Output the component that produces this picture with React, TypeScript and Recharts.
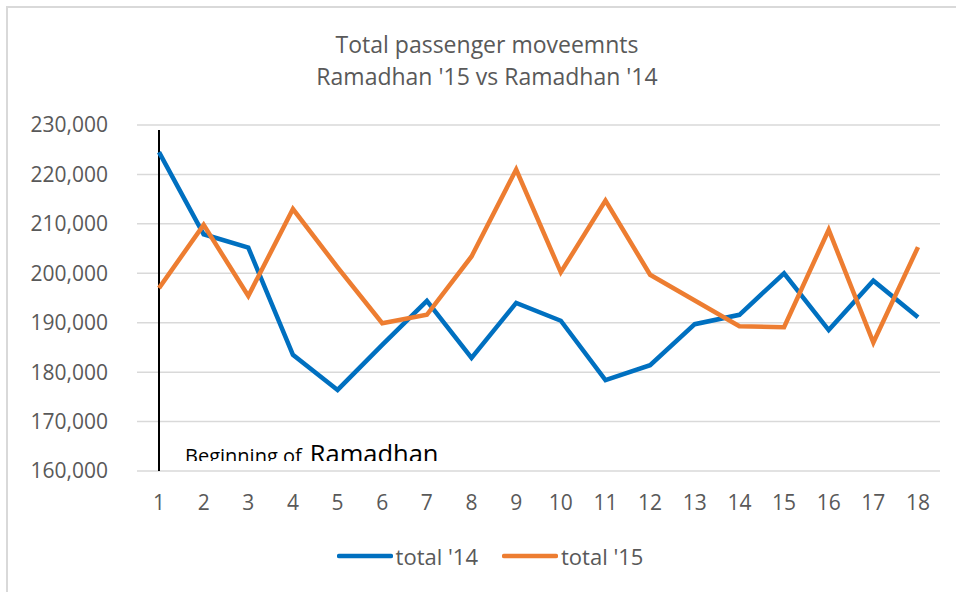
import React from "react";
import {
  CartesianGrid,
  Legend,
  Line,
  LineChart,
  ReferenceLine,
  XAxis,
  YAxis
} from "recharts";

const days = [1, 2, 3, 4, 5, 6, 7, 8, 9, 10, 11, 12, 13, 14, 15, 16, 17, 18];
const total14 = [
  224500, 207900, 205200, 183500, 176400, 185500, 194400, 182900, 194000,
  190400, 178400, 181400, 189700, 191600, 200000, 188500, 198500, 191100
];
const total15 = [
  197000, 209800, 195400, 213000, 201200, 189900, 191600, 203400, 221000,
  200200, 214700, 199700, 194500, 189300, 189100, 208800, 186000, 205300
];
const yTicks = [160000, 170000, 180000, 190000, 200000, 210000, 220000, 230000];

const data = days.map((d, i) => ({ day: d, t14: total14[i], t15: total15[i] }));

const FONT = "'Open Sans', 'Liberation Sans', sans-serif";
const GRAY = "#595959";

function RamadhanLabel(props: any) {
  const vb = props.viewBox || {};
  const x = vb.x + 26;
  const base = vb.y + vb.height - 10;
  return (
    <g>
      <defs>
        <clipPath id="ramadhanClip">
          <rect x={x - 5} y={base - 40} width={320} height={40} />
        </clipPath>
      </defs>
      <text x={x} y={base + 2} fontFamily={FONT} fill="#000" clipPath="url(#ramadhanClip)">
        <tspan fontSize={20}>Beginning of</tspan>
        <tspan fontSize={25.5} dx={8}>Ramadhan</tspan>
      </text>
    </g>
  );
}

function LegendContent(props: any) {
  const payload = props.payload || [];
  return (
    <div
      style={{
        display: "flex",
        justifyContent: "center",
        alignItems: "center",
        height: 30,
        paddingLeft: 24,
        boxSizing: "border-box",
        fontFamily: FONT,
        fontSize: 22,
        color: GRAY
      }}
    >
      {payload.map((p: any) => (
        <div key={p.value} style={{ display: "flex", alignItems: "center", margin: "0 12px" }}>
          <svg width={56} height={8} style={{ marginRight: 3 }}>
            <line x1={2} y1={4} x2={54} y2={4} stroke={p.color} strokeWidth={4.5} strokeLinecap="round" />
          </svg>
          <span>{p.value}</span>
        </div>
      ))}
    </div>
  );
}

export default function App() {
  return (
    <div style={{ position: "absolute", left: 0, top: 0, width: 956, height: 592, background: "#fff" }}>
      <div
        style={{
          position: "absolute",
          left: 6,
          top: 6,
          width: 950,
          height: 586,
          borderTop: "2px solid #d9d9d9",
          borderLeft: "2px solid #d9d9d9",
          boxSizing: "border-box"
        }}
      />
      <div
        style={{
          position: "absolute",
          left: 0,
          top: 28,
          width: 974,
          textAlign: "center",
          fontFamily: FONT,
          fontSize: 23,
          lineHeight: "32px",
          color: GRAY
        }}
      >
        Total passenger moveemnts
        <br />
        Ramadhan '15 vs Ramadhan '14
      </div>
      <LineChart
        width={956}
        height={592}
        data={data}
        margin={{ top: 125, right: 16, left: 0, bottom: 41 }}
        style={{ position: "absolute", left: 0, top: 0 }}
      >
        <CartesianGrid vertical={false} stroke="#d9d9d9" strokeWidth={1.5} />
        <XAxis
          dataKey="day"
          height={50}
          padding={{ left: 22, right: 22 }}
          axisLine={false}
          tickLine={false}
          tickSize={0}
          tickMargin={24}
          tick={{ fill: GRAY, fontSize: 21, fontFamily: FONT }}
        />
        <YAxis
          width={137}
          domain={[160000, 230000]}
          ticks={yTicks}
          axisLine={false}
          tickLine={false}
          tickSize={0}
          tickMargin={29}
          tickFormatter={(v: number) => v.toLocaleString("en-US")}
          tick={{ fill: GRAY, fontSize: 21, fontFamily: FONT }}
        />
        <ReferenceLine
          segment={[
            { x: 1, y: 229000 },
            { x: 1, y: 160000 }
          ]}
          stroke="#000"
          strokeWidth={2}
          label={<RamadhanLabel />}
        />
        <Line
          dataKey="t14"
          name="total '14"
          stroke="#0070C0"
          strokeWidth={4.5}
          dot={false}
          activeDot={false}
          isAnimationActive={false}
        />
        <Line
          dataKey="t15"
          name="total '15"
          stroke="#ED7D31"
          strokeWidth={4.5}
          dot={false}
          activeDot={false}
          isAnimationActive={false}
        />
        <Legend
          verticalAlign="bottom"
          content={<LegendContent />}
          wrapperStyle={{ top: 541, left: 0, width: 956 }}
        />
      </LineChart>
    </div>
  );
}
